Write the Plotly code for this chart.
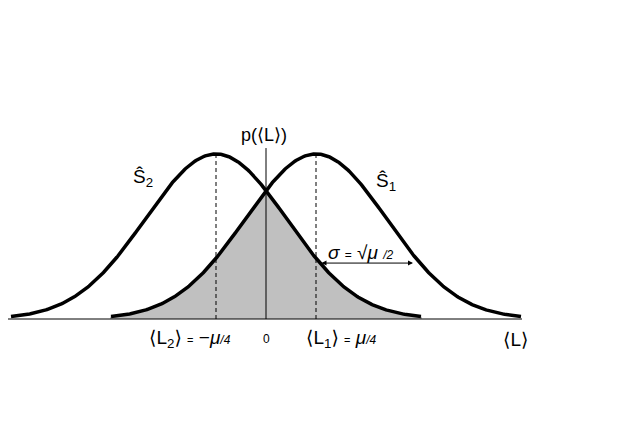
import numpy as np
import plotly.graph_objects as go

# ---- data (distribution parameters; mu = 2) ----
means = [0.5, -0.5]          # <L1> = mu/4, <L2> = -mu/4
sigma = 0.7071               # sqrt(mu)/2
peak = [1.0, 1.0]
half_span = 2.05             # how far each curve is drawn from its mean
fill_limits = [-1.56, 1.56]  # shaded overlap region
baseline_limits = [-2.58, 2.56]
axis_top = 1.036
arrow_span = [0.54, 1.47]
arrow_y = 0.339

PAGE_OFF = 8  # page body margin

def px_x(p):
    return (p - 266) / 100.0

def px_y(p):
    return (319 - p) / 165.0

def gauss(x, m, s, h):
    return h * np.exp(-(x - m) ** 2 / (2 * s ** 2))

fig = go.Figure()

# shaded overlap (min of two curves)
xf = np.linspace(fill_limits[0], fill_limits[1], 400)
yf = np.minimum(gauss(xf, means[0], sigma, peak[0]), gauss(xf, means[1], sigma, peak[1]))
fig.add_trace(go.Scatter(x=np.concatenate([[xf[0]], xf, [xf[-1]]]),
                         y=np.concatenate([[0], yf, [0]]),
                         fill="toself", fillcolor="#c0c0c0",
                         line=dict(width=0), mode="lines", hoverinfo="skip"))

# baseline
fig.add_trace(go.Scatter(x=baseline_limits, y=[0, 0], mode="lines",
                         line=dict(color="black", width=1)))
# vertical axis
fig.add_trace(go.Scatter(x=[0, 0], y=[0, axis_top], mode="lines",
                         line=dict(color="black", width=1)))
# dashed mean lines
for m, h in zip(means, peak):
    fig.add_trace(go.Scatter(x=[m, m], y=[0, h], mode="lines",
                             line=dict(color="black", width=1, dash="4px,3px")))

# curves
for m, h in zip(means, peak):
    xs = np.linspace(m - half_span, m + half_span, 400)
    fig.add_trace(go.Scatter(x=xs, y=gauss(xs, m, sigma, h), mode="lines",
                             line=dict(color="black", width=3.5)))

FONT = "Liberation Sans Narrow, Liberation Sans, DejaVu Sans"
ann = []
def label(px, py, text, size=16):
    ann.append(dict(x=px_x(px), y=px_y(py), xref="x", yref="y", text=text,
                    showarrow=False, font=dict(family=FONT, size=size, color="black"),
                    xanchor="center", yanchor="middle"))

label(264, 135, "p(⟨L⟩)", 18)
label(143, 178, "Ŝ<sub>2</sub>", 19)
label(386, 182, "Ŝ<sub>1</sub>", 19)
label(361, 252, "<i>σ</i> <span style='font-size:12px'>=</span> √<i>μ</i> <span style='font-size:12px'><i>/2</i></span>", 19)
label(190, 339, "⟨L<sub>2</sub>⟩ <span style='font-size:11px'>=</span> −<i>μ</i><span style='font-size:12px'><i>/4</i></span>", 19)
label(266, 339, "0", 12)
label(341, 339, "⟨L<sub>1</sub>⟩ <span style='font-size:11px'>=</span> <i>μ</i><span style='font-size:12px'><i>/4</i></span>", 19)
label(515, 339, "⟨L⟩", 19)

# sigma arrow (double-headed)
ann.append(dict(x=arrow_span[1], y=arrow_y, ax=arrow_span[0], ay=arrow_y,
                xref="x", yref="y", axref="x", ayref="y", text="",
                showarrow=True, arrowhead=2, arrowside="end+start",
                arrowsize=1, arrowwidth=1, arrowcolor="black"))

fig.update_layout(
    width=640, height=442, margin=dict(l=0, r=0, t=0, b=0),
    paper_bgcolor="white", plot_bgcolor="white", showlegend=False,
    annotations=ann,
    xaxis=dict(range=[px_x(PAGE_OFF), px_x(640 + PAGE_OFF)], visible=False, fixedrange=True),
    yaxis=dict(range=[px_y(442 + PAGE_OFF), px_y(PAGE_OFF)], visible=False, fixedrange=True),
)
fig.write_html("out.html")
